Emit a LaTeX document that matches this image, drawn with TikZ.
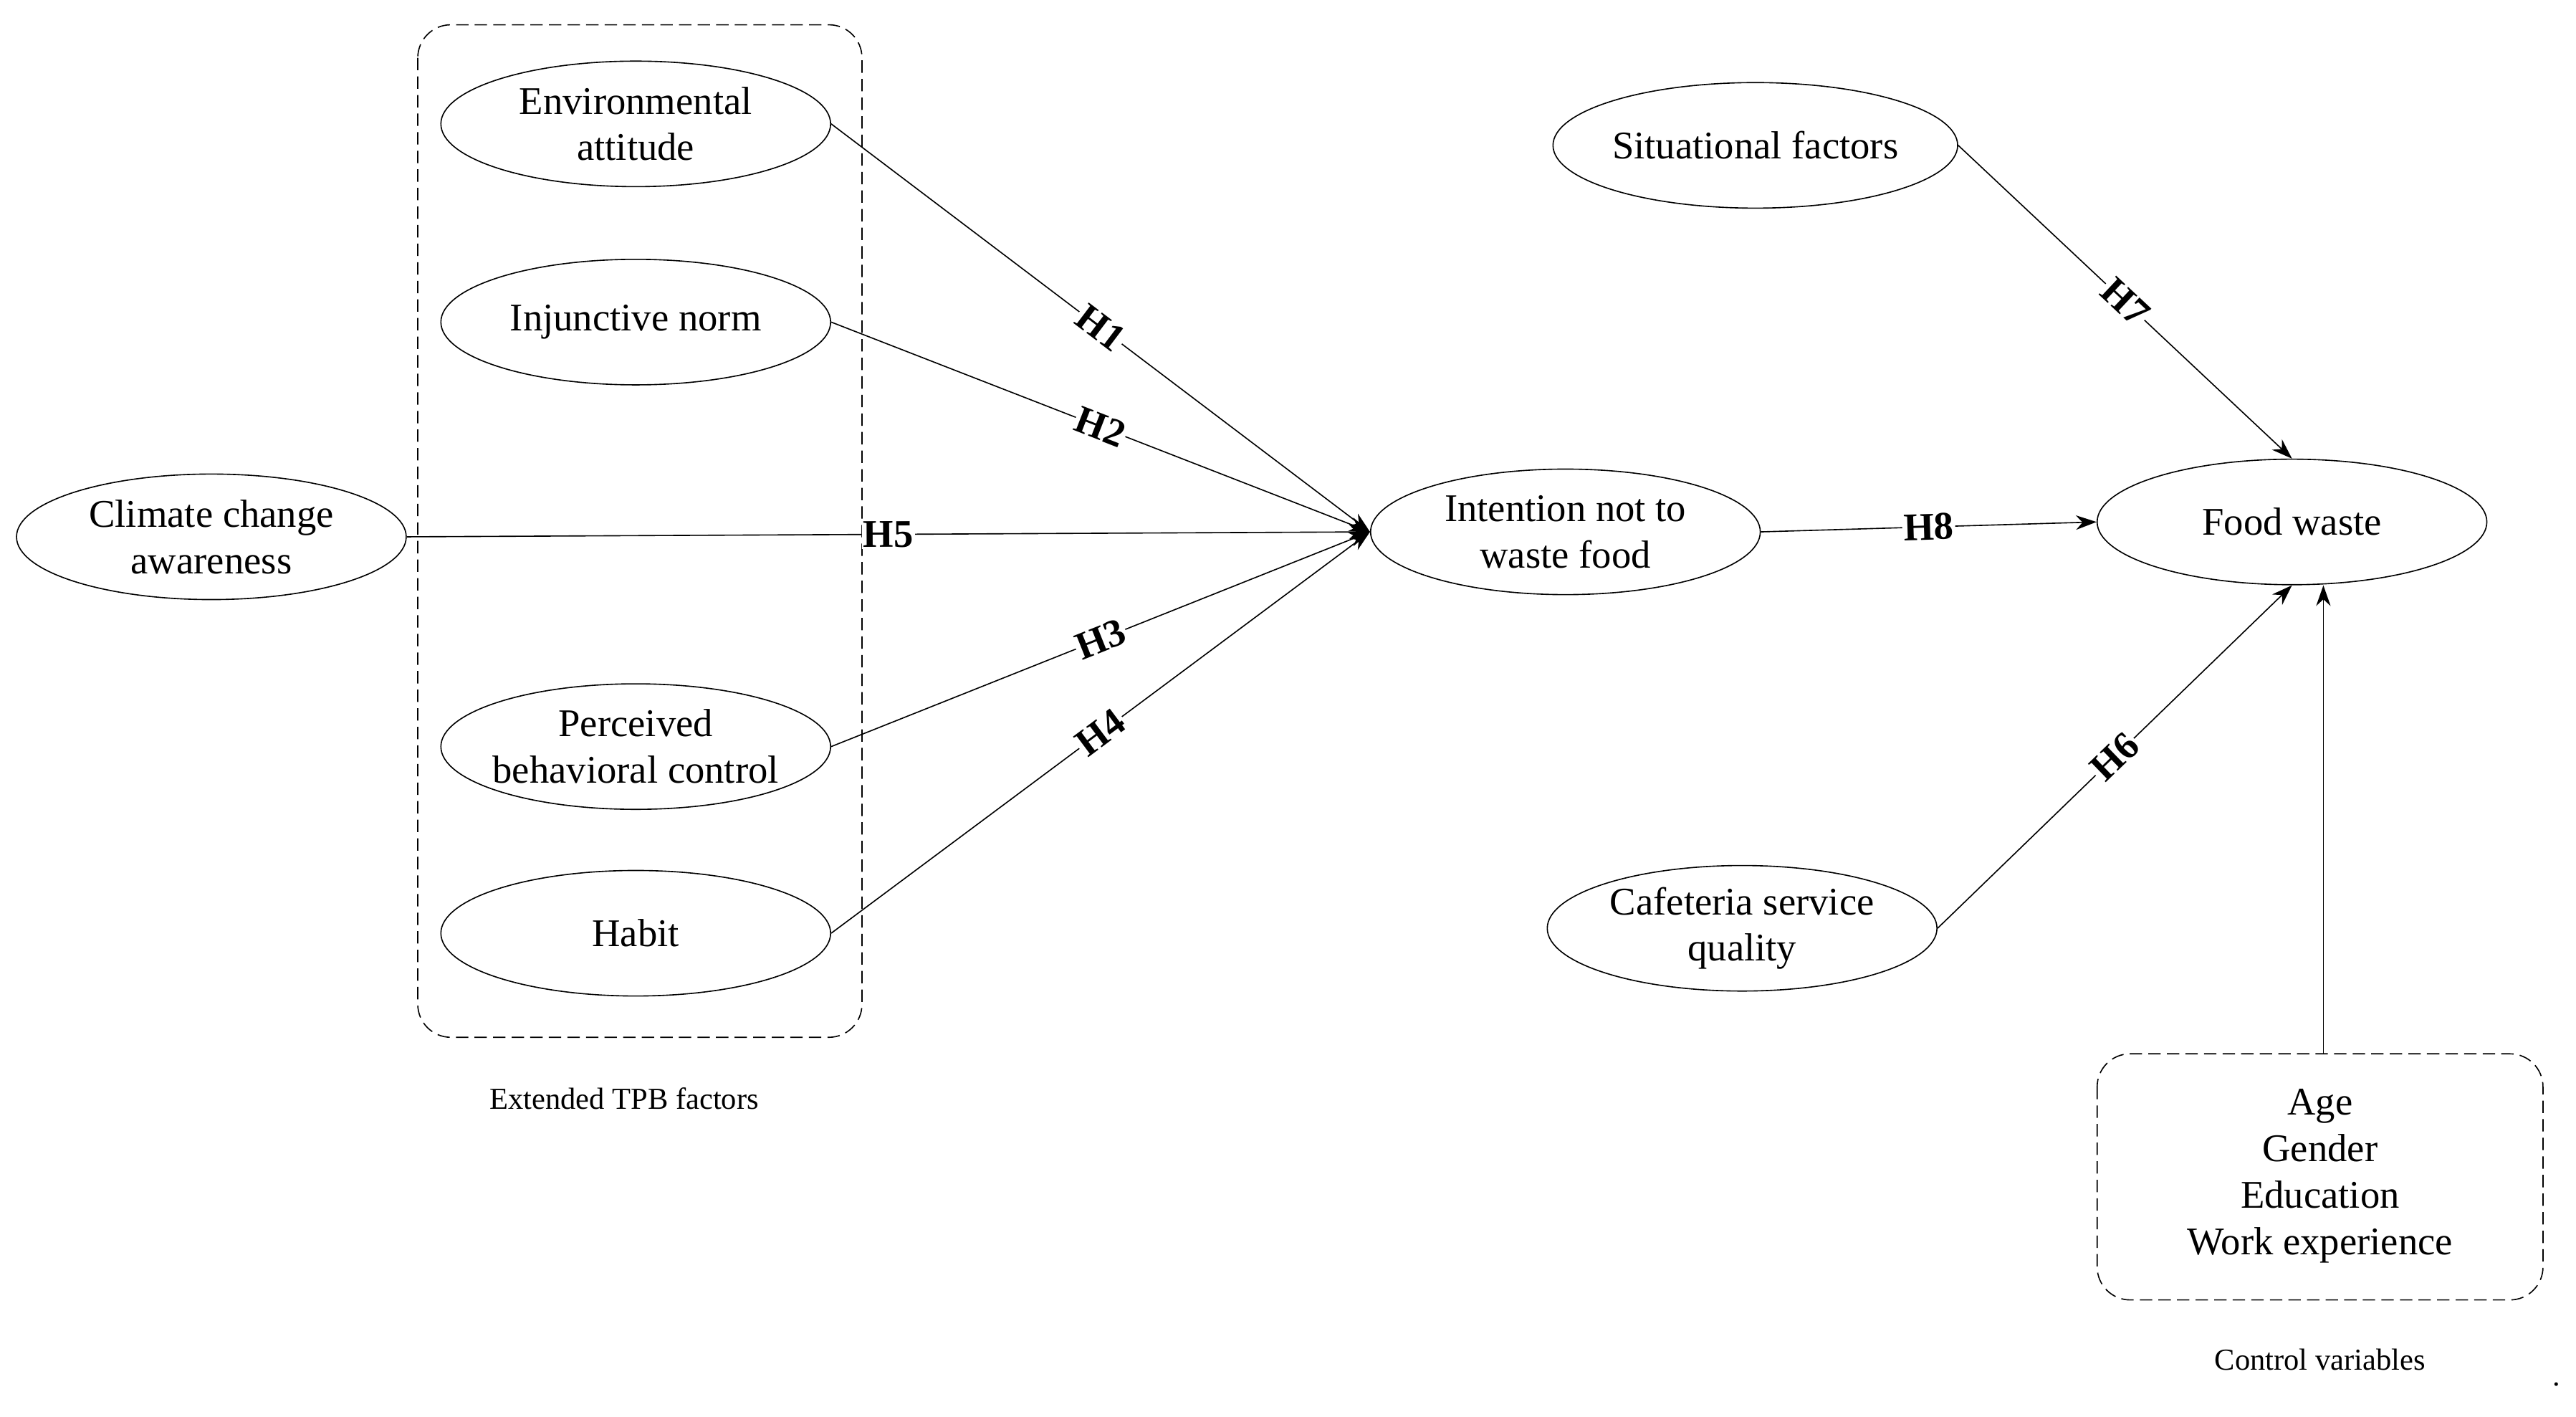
\documentclass[tikz,border=0pt]{standalone}
\usepackage{fontspec}
\setmainfont{Liberation Serif}
\usetikzlibrary{shapes.geometric,arrows.meta}
\begin{document}
\begin{tikzpicture}[x=0.4mm,y=-0.4mm,
  el/.style={ellipse,draw,line width=0.8pt,minimum width=94.4mm,minimum height=30.4mm,inner sep=0pt,align=center,font=\fontsize{27}{32}\selectfont},
  ar/.style={-{Stealth[length=5mm,width=3.5mm]},line width=0.8pt},
  hl/.style={font=\bfseries\fontsize{27}{30}\selectfont,fill=white,inner sep=1pt,sloped},
  box/.style={draw,dashed,line width=0.8pt,rounded corners=8mm,dash pattern=on 3mm off 1.5mm},
  captxt/.style={font=\fontsize{21}{24}\selectfont}]
\useasboundingbox (0,0) rectangle (1560,857.5);
\draw[box] (253,15) rectangle (522,628);
\draw[box] (1270,638) rectangle (1540,787);
\node[el] (env) at (385,75) {Environmental\\attitude};
\node[el] (inj) at (385,195) {Injunctive norm};
\node[el] (cca) at (128,325) {Climate change\\awareness};
\node[el,inner xsep=-3mm] (pbc) at (385,452) {Perceived\\behavioral control};
\node[el] (hab) at (385,565) {Habit};
\node[el] (int) at (948,322) {Intention not to\\waste food};
\node[el] (sit) at (1063,88) {Situational factors};
\node[el] (fw) at (1388,316) {Food waste};
\node[el] (caf) at (1055,562) {Cafeteria service\\quality};
\node[captxt] (tpb) at (378,665) {Extended TPB factors};
\node[align=center,font=\fontsize{27}{32}\selectfont] (ctl) at (1405,712) {Age\\Gender\\Education\\Work experience};
\node[captxt] (cv) at (1405,823) {Control variables};
\node[captxt] (dot) at (1548,838) {.};
\coordinate (ctop) at (1407,638);
\draw[ar] (env.east) -- node[hl,pos=0.5] {H1} (int.west);
\draw[ar] (inj.east) -- node[hl,pos=0.5] {H2} (int.west);
\draw[ar] (cca.east) -- node[hl,pos=0.5] {H5} (int.west);
\draw[ar] (pbc.east) -- node[hl,pos=0.5] {H3} (int.west);
\draw[ar] (hab.east) -- node[hl,pos=0.5] {H4} (int.west);
\draw[ar] (int.east) -- node[hl,pos=0.5] {H8} (fw.west);
\draw[ar] (sit.east) -- node[hl,pos=0.5] {H7} (fw.north);
\draw[ar] (caf.east) -- node[hl,pos=0.5] {H6} (fw.south);
\draw[ar] (ctop) -- (fw.south -| ctop);
\end{tikzpicture}
\end{document}
